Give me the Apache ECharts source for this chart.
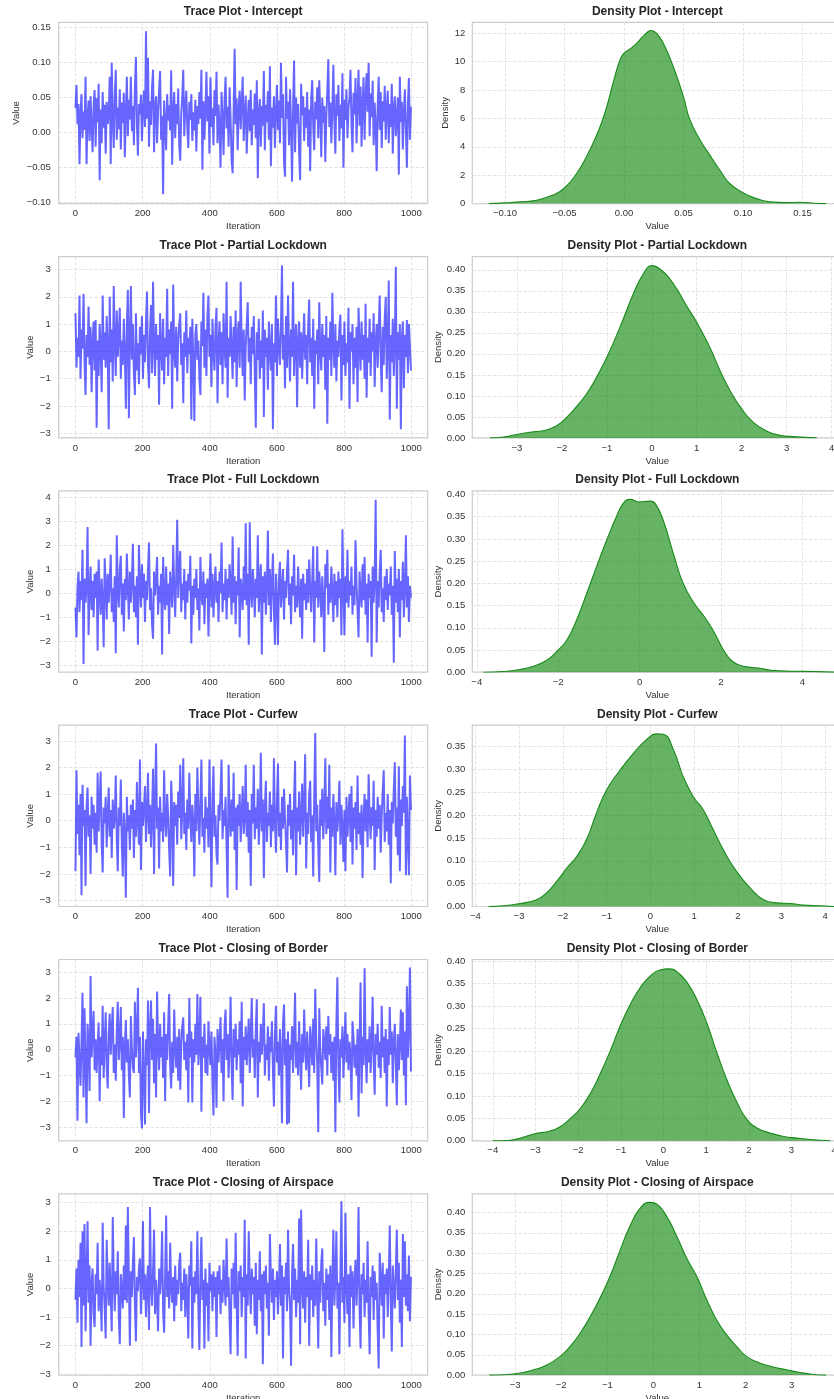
<!DOCTYPE html>
<html><head><meta charset="utf-8">
<script src="https://cdn.jsdelivr.net/npm/echarts@6/dist/echarts.min.js"></script>
<style>html,body{margin:0;padding:0;background:#fff}#c{width:834px;height:1399px}</style>
</head><body><div id="c"></div>
<script>
// ---------------- data ----------------
const STEP = 3; // iterations between stored samples
const paramNames = ['Intercept','Partial Lockdown','Full Lockdown','Curfew','Closing of Border','Closing of Airspace'];

const traceIntercept = [
0.035,0.068,0.012,0.041,-0.045,0.027,0.055,-0.008,0.030,0.004,
0.080,-0.045,0.022,0.046,-0.012,0.052,0.009,-0.028,0.038,0.061,
-0.020,0.049,0.015,0.070,-0.068,0.033,-0.015,0.058,0.007,0.040,
-0.030,0.044,0.012,0.025,0.080,-0.045,0.100,0.018,-0.022,0.054,
0.090,-0.010,0.036,0.005,0.062,-0.024,0.043,0.014,0.057,-0.035,
0.028,0.080,-0.005,0.047,0.019,0.080,0.002,0.038,-0.018,0.065,
0.108,0.012,-0.033,0.041,0.026,0.054,-0.012,0.034,0.060,0.008,
0.145,0.020,0.107,-0.020,0.045,0.011,0.065,0.090,-0.028,0.037,
0.052,-0.015,0.030,0.060,0.088,-0.010,0.024,-0.088,0.046,0.013,
-0.025,0.055,0.017,0.039,0.003,0.089,-0.046,0.031,0.058,-0.008,
0.041,0.012,0.063,-0.018,-0.040,0.027,0.050,0.090,-0.005,0.034,
0.060,0.009,-0.022,0.044,0.018,0.055,-0.012,0.029,0.003,0.047,
-0.027,0.038,0.012,0.058,0.020,0.090,-0.053,0.045,-0.010,0.031,
0.087,0.016,0.052,-0.030,0.079,0.008,0.035,-0.018,0.061,0.024,
0.087,-0.015,0.040,0.011,-0.050,0.058,0.021,-0.032,0.046,0.080,
0.006,0.037,-0.020,0.065,0.019,-0.040,-0.058,0.030,0.120,0.012,
0.049,-0.025,0.034,0.060,0.005,0.042,0.080,-0.012,0.027,0.053,
-0.030,0.018,0.047,0.002,0.061,-0.018,0.033,0.011,0.056,-0.008,
0.075,-0.065,0.029,0.048,-0.020,0.038,0.010,0.088,-0.025,0.040,
0.015,0.059,-0.010,0.095,-0.048,0.036,0.007,0.052,-0.022,0.030,
0.068,0.004,0.046,-0.015,0.100,0.021,0.055,-0.040,-0.063,0.080,
0.020,0.044,-0.018,0.062,0.009,-0.070,0.035,0.103,-0.028,0.050,
0.013,0.041,-0.030,-0.068,0.070,0.025,0.052,-0.012,0.036,0.007,
0.058,-0.020,0.033,-0.055,0.048,0.075,0.010,-0.025,0.044,0.019,
0.065,-0.008,0.075,0.028,-0.035,0.050,0.014,0.038,-0.042,0.022,
0.060,0.105,0.008,0.043,-0.015,0.031,0.097,0.016,-0.030,0.055,
0.024,0.068,-0.012,0.040,0.006,0.085,-0.050,0.047,0.018,0.062,
-0.008,0.035,0.050,0.090,0.012,-0.028,0.057,0.026,0.078,-0.015,
0.045,0.090,0.010,0.066,-0.020,0.038,0.079,-0.010,0.052,0.085,
0.030,0.100,-0.005,0.056,0.022,0.074,-0.018,0.043,0.012,-0.055,
0.037,0.080,0.004,0.058,-0.022,0.045,0.016,0.067,-0.010,0.033,
0.060,-0.015,0.041,0.008,0.070,-0.030,0.035,0.052,-0.005,0.024,
0.050,-0.060,0.080,0.015,0.044,-0.024,0.030,0.062,0.003,-0.050,
0.040,0.078,-0.010,0.037];

const tracePartial = [
1.4,-0.6,0.5,-0.2,2.05,-1.0,0.8,0.1,2.1,-0.4,
-1.6,0.6,-0.2,1.65,-0.5,0.9,-1.5,0.3,1.1,-0.7,
1.15,-2.8,0.4,-0.9,1.0,0.2,-1.5,2.05,-0.3,0.7,
-0.6,1.3,0.1,-2.85,2.0,-0.4,0.8,-1.1,2.4,0.3,
-0.9,1.5,-0.2,0.6,1.6,-1.0,0.4,-0.5,1.2,0.0,
-2.1,0.9,2.25,-2.45,0.5,2.4,-0.3,1.0,-0.8,-1.6,
1.4,-0.7,0.3,-1.2,0.9,-0.1,1.3,-1.0,0.6,-0.4,
1.1,2.2,-0.5,-1.35,0.7,1.7,-0.8,2.55,0.2,-0.9,
1.0,-0.3,0.6,-1.95,1.4,0.1,-0.7,1.2,-1.2,0.5,
-0.2,2.3,-0.9,0.8,-0.1,1.1,-2.1,2.45,0.0,-0.6,
0.9,-1.1,0.4,1.0,1.4,-0.5,0.3,-1.9,0.7,-0.2,
1.5,-0.8,0.5,-0.1,0.9,-2.5,1.2,-0.4,-2.55,0.6,
1.0,-0.3,0.4,-1.0,-1.6,1.1,0.2,2.15,-0.6,0.8,
-0.9,1.3,2.05,-0.2,0.6,-1.3,1.2,0.0,-0.7,0.9,
1.6,-1.9,0.3,1.1,-0.5,0.7,-1.2,1.4,0.2,-0.6,
2.55,-1.7,0.5,-0.2,1.3,0.1,-1.0,0.9,-0.4,1.5,
-1.3,0.6,1.1,-0.6,2.55,0.3,-0.9,0.8,-1.8,0.2,
1.0,1.8,-0.4,0.5,-1.2,0.9,-0.1,1.3,-0.8,-2.8,
0.7,-0.3,1.2,-1.0,0.4,-0.6,1.5,-2.4,0.8,-0.2,
0.5,-1.4,1.1,0.0,-0.7,1.0,-2.85,0.3,-0.4,2.05,
-0.9,1.2,0.2,-0.5,0.9,3.15,-0.3,0.6,-1.35,1.3,
-0.6,2.05,0.1,-1.1,0.8,-0.2,2.55,-0.9,0.5,1.0,
-2.05,0.4,1.1,-0.6,0.7,-1.0,0.3,1.4,-0.3,0.6,
-1.2,0.9,1.9,-0.4,0.5,-0.9,1.2,-2.1,0.4,-0.1,
0.8,-1.2,1.8,0.0,-0.7,1.0,-0.2,0.6,-1.4,1.3,
-2.65,0.5,-0.3,1.1,-0.9,2.15,0.2,-0.6,1.0,-1.1,
0.4,-0.2,0.9,1.35,-1.8,0.6,-0.5,1.1,-0.9,0.3,
-0.4,1.6,-2.1,0.7,0.0,1.0,-1.2,0.5,-0.6,0.9,
-1.85,1.6,0.2,-0.7,1.1,-0.3,0.6,-1.0,1.75,-1.7,
0.5,-0.4,1.2,-0.9,0.7,0.0,1.4,-1.3,0.3,1.0,
-0.6,0.8,2.05,-0.2,-1.5,0.9,-0.5,1.2,2.0,-1.0,
0.3,2.6,-2.5,0.6,-0.4,1.2,-0.9,0.4,3.1,-2.1,
0.7,-0.3,1.0,-2.85,0.5,1.1,-1.35,0.6,-0.2,1.15,
-0.8,1.0,0.2,-0.7];

const traceFull = [
-0.6,-1.85,0.2,0.9,-0.8,0.5,-0.3,1.8,-2.95,0.6,
-0.4,0.3,2.75,-1.75,0.1,1.1,-0.7,0.5,-1.0,0.8,
-0.2,0.9,-2.4,1.4,0.1,-0.9,0.6,-0.3,-2.25,1.45,
0.3,-1.1,0.8,-0.4,0.5,1.6,-0.8,0.2,-1.2,0.7,
-2.5,2.4,0.1,-0.6,1.0,1.55,-0.9,0.4,-1.6,0.6,
-0.3,1.65,0.2,-1.1,0.9,-0.4,0.5,2.05,-0.8,0.3,
-1.0,0.7,-2.15,2.0,0.4,-0.6,1.2,-0.2,0.8,-1.2,
0.5,-0.3,1.0,2.1,-0.7,0.2,-1.3,-1.9,0.9,-0.1,
0.6,1.5,-0.9,0.3,-0.4,0.8,-2.55,1.5,0.0,-0.7,
1.1,-0.5,0.4,-1.7,0.9,0.1,-0.6,2.0,0.3,-1.0,
0.7,3.05,-0.2,1.2,1.75,-0.8,0.4,-0.3,1.0,-1.1,
0.5,-0.4,0.8,0.1,1.55,-2.1,0.3,-0.9,0.6,-0.2,
1.0,-0.7,0.2,-1.55,1.5,0.0,-0.5,0.9,-1.3,0.4,
-0.2,0.6,-1.8,0.3,1.65,-0.6,0.8,-1.0,0.2,1.1,
-0.4,0.5,-1.2,0.9,0.0,2.1,-0.8,0.4,-0.3,1.0,
-1.1,0.6,-0.2,1.2,0.3,-0.9,2.35,-0.4,0.7,-1.3,
0.5,-0.1,1.9,-1.85,0.6,0.2,-0.7,1.1,-0.3,2.9,
-0.5,0.8,-2.15,2.95,0.1,-0.6,1.0,0.3,-1.0,0.6,
-0.2,2.4,-0.8,0.5,1.2,-2.55,0.7,-0.4,0.9,-0.9,
0.3,2.6,-0.5,1.0,-1.2,0.4,1.65,-0.7,-2.15,0.8,
-0.3,-2.15,0.6,1.3,-0.6,0.2,1.0,-1.1,0.5,-0.2,
0.9,1.8,-0.5,0.4,-1.3,0.7,-0.1,1.6,-0.8,0.3,
-0.6,1.1,0.0,-1.0,0.6,-1.9,0.8,-0.3,0.4,-0.7,
1.0,-0.4,1.4,0.2,-0.8,0.6,1.95,-2.05,0.5,-0.2,
1.95,-0.6,0.9,0.1,-1.0,0.7,-0.3,-2.45,1.2,0.2,
1.8,-0.9,0.4,-0.4,1.1,0.0,-1.2,0.8,-0.5,0.5,
-1.0,0.9,-0.2,0.6,-1.75,2.65,0.2,-1.75,0.7,-0.4,
1.8,-0.6,0.5,-0.1,1.1,-0.9,0.3,-0.5,2.2,0.4,
-0.7,-1.85,0.9,0.0,-0.6,1.2,-0.3,1.5,-0.9,0.4,
-2.05,0.8,-0.2,0.5,-2.65,1.1,-0.4,0.6,3.88,-2.05,
0.5,-0.6,0.9,1.8,-0.8,0.2,-1.2,0.7,-0.3,1.0,
-0.7,0.4,-0.1,1.1,-0.9,0.3,-2.9,1.75,-0.4,0.6,
-0.8,1.0,-1.85,0.5,-0.3,1.3,-1.0,0.2,2.4,-0.6,
0.7,-1.2,0.3,-0.2];

const traceCurfew = [
-1.9,1.9,-0.5,0.6,-1.3,1.0,-2.8,1.35,-0.2,0.4,
-2.45,0.5,1.25,-0.6,0.2,-2.0,0.9,-0.3,0.6,-0.9,
0.3,-1.2,1.8,-0.4,0.7,1.85,-0.8,-1.95,0.5,-0.1,
0.9,-1.0,0.2,1.25,-0.6,0.4,-1.4,0.8,-0.3,0.1,
1.7,-0.7,-1.9,0.5,-0.2,1.55,-0.9,-2.1,0.3,-0.5,
-2.9,0.9,-0.4,0.2,-1.1,0.6,-0.3,0.8,-1.4,0.4,
-0.6,1.45,0.0,-0.9,2.3,-1.85,0.7,-0.2,0.5,1.3,
-0.8,0.3,1.8,-0.5,0.6,-1.0,0.2,1.95,-2.0,0.8,
2.9,-0.3,0.5,-1.8,0.9,-0.4,0.3,-0.8,1.9,0.0,
-0.6,1.0,0.2,-1.1,-2.1,1.5,0.4,-2.45,0.7,-0.2,
0.6,-0.9,1.1,0.1,2.1,-0.7,0.4,2.35,-0.5,0.3,
-1.1,0.8,-0.3,1.8,0.2,-0.8,0.6,-0.1,-2.1,1.0,
-0.4,2.0,0.3,-0.9,0.7,2.3,-0.6,0.1,-1.2,0.9,
-0.3,0.5,-1.0,2.3,-0.2,-2.5,0.8,2.05,-0.6,0.2,
-1.3,-1.65,0.6,0.0,1.1,2.3,-0.7,0.4,-0.2,0.9,
-1.0,-2.9,2.1,0.3,-0.6,0.8,-0.4,1.8,-1.1,0.5,
-2.6,0.6,-0.2,1.0,-0.8,0.3,1.3,-0.5,0.1,2.1,
-0.6,0.7,-1.2,0.4,-2.45,1.0,-0.1,2.1,-0.7,0.5,
-0.3,1.2,-0.9,0.2,2.55,-0.4,0.8,-2.15,0.5,1.5,
-0.8,0.3,-0.2,1.1,-1.0,0.6,-0.4,2.35,0.0,-1.2,
0.7,2.15,-0.6,0.3,-1.1,0.9,-0.3,1.2,0.1,-0.8,
-1.95,0.6,-0.2,1.0,-0.7,0.4,-1.3,0.8,2.25,-2.05,
0.5,-0.4,1.1,-0.9,0.2,1.4,-0.6,0.7,2.5,-1.8,
0.3,-0.5,1.0,1.5,-0.8,0.2,-2.1,0.9,3.3,-0.4,
0.6,-1.0,-2.3,0.8,-0.2,1.2,-0.7,0.4,2.35,-0.5,
0.9,-0.3,2.1,-1.95,0.5,-0.6,1.0,0.0,-2.05,0.7,
-0.4,0.3,1.5,-0.9,0.6,-0.2,-1.55,0.4,-1.9,0.9,
-0.6,0.2,1.0,-0.8,1.3,-1.65,0.5,-0.3,0.7,-1.1,
1.7,-0.5,0.3,-0.9,0.6,-2.15,0.1,1.0,-0.4,0.8,
-1.0,1.75,0.2,-0.7,0.5,-0.2,1.5,-1.85,0.4,-0.6,
0.9,-0.3,0.6,-1.2,0.2,1.1,1.9,-0.8,0.3,-0.4,
1.0,-0.9,0.4,-2.35,0.7,-0.1,1.2,2.2,-0.6,0.5,
-1.3,2.05,-1.9,0.8,-0.2,1.3,0.3,3.2,-2.05,0.9,
-0.7,-2.05,1.7,0.4];

const traceBorder = [
-0.3,0.5,-2.75,0.65,-0.4,-1.4,0.3,2.2,-1.85,1.6,
-0.5,-2.85,1.0,0.2,-1.6,2.85,-0.3,0.6,1.5,-0.8,
0.4,-0.9,0.2,1.05,-2.0,0.5,-0.6,1.7,-1.1,0.3,
1.45,-0.7,-1.5,0.6,1.4,-0.2,0.8,1.65,-0.9,0.2,
-1.2,0.7,1.85,-0.4,0.3,1.65,-0.8,0.5,-2.65,0.1,
1.15,-0.5,0.4,-1.0,-1.85,1.3,0.0,-0.7,-0.9,1.85,
-0.3,0.6,2.4,-0.9,0.5,-2.45,-3.05,0.7,-1.0,-2.9,
0.4,-0.6,1.9,-2.45,0.8,1.9,-0.4,1.2,-1.3,0.6,
-1.85,2.25,0.2,-0.8,1.0,-0.3,0.5,-1.1,1.45,-2.0,
0.6,-0.4,0.9,2.15,-0.6,-1.5,0.3,-0.9,1.55,0.0,
-0.7,0.5,-1.2,0.8,-1.55,0.2,0.9,1.25,-0.4,0.3,
-0.8,0.6,-2.05,2.0,-0.3,0.7,-2.05,0.4,-0.5,1.0,
-0.2,2.15,-0.6,0.3,2.05,-2.4,0.5,-0.3,1.0,-0.9,
0.2,-1.0,1.1,0.0,-0.6,0.7,-1.3,-2.55,0.5,-0.2,
-2.25,0.8,-0.5,0.3,1.25,-0.9,0.4,-2.0,0.9,1.55,
-0.4,0.6,-1.1,0.2,2.05,-0.7,-1.95,0.8,-0.3,1.0,
-0.8,0.4,-0.2,1.1,-1.3,1.85,-2.2,0.5,-0.4,0.9,
-0.6,0.3,1.2,-0.9,0.6,2.0,-0.3,0.4,-1.1,0.8,
1.95,-1.85,0.3,-0.5,1.0,-0.2,0.6,1.8,-1.0,0.2,
-0.4,0.9,-1.2,0.5,-0.1,1.1,-0.8,-2.2,0.6,1.7,
-0.5,0.3,-1.0,0.8,-0.3,-2.85,1.0,1.75,-0.6,0.4,
-2.9,0.7,-2.85,0.2,-0.4,0.9,-0.9,0.5,2.2,-0.7,
0.3,-1.0,1.1,-0.2,-1.55,0.6,-0.5,1.55,0.1,-0.8,
0.7,-0.3,-1.45,0.9,0.2,-0.6,1.2,-0.9,2.35,0.4,
-0.5,-3.2,1.6,0.0,-0.7,-1.35,0.8,0.3,-0.4,0.9,
-1.0,1.3,-0.2,0.6,-0.9,0.3,-1.2,0.5,-3.2,1.0,
2.8,-0.6,-2.05,0.4,-0.3,0.9,-1.1,0.2,1.45,-0.5,
0.6,-0.8,0.3,-0.2,-1.95,1.1,0.5,-0.7,0.2,-1.0,
0.8,-2.6,0.3,2.6,-1.7,0.5,-0.6,3.15,0.0,-1.3,
0.4,-0.5,0.9,-0.9,0.2,2.05,-0.4,-1.75,0.6,-0.2,
1.0,-0.7,0.3,-1.1,1.7,-0.3,0.5,-0.9,0.8,-2.2,
0.4,-0.6,1.65,-0.2,0.7,-1.3,0.3,1.0,-0.5,-2.15,
0.6,-0.8,0.2,1.55,-0.4,1.45,-1.0,0.7,-2.15,2.45,
-0.3,0.9,3.18,-0.85];

const traceAirspace = [
-0.4,0.7,-1.2,1.0,-0.3,1.6,-2.05,2.0,-0.6,2.25,
-1.5,0.4,2.35,-0.5,0.8,-2.0,0.2,0.7,-0.9,-1.35,
0.5,-0.2,1.6,-0.8,0.3,-0.4,-1.5,2.3,0.1,-0.7,
-1.75,1.7,0.2,-0.6,0.9,-0.3,-1.5,2.5,0.4,-0.8,
0.6,-0.2,1.3,-1.0,-1.95,0.5,0.0,-0.7,0.8,-0.4,
2.2,-0.5,2.85,0.3,-2.0,0.6,-0.3,0.9,1.8,-0.6,
-1.85,0.4,-0.1,0.7,1.05,-0.9,0.3,2.35,-0.4,0.5,
-1.0,0.2,0.8,-1.45,2.85,0.1,-0.6,0.6,2.05,-0.9,
0.3,-0.4,-1.5,0.7,-0.2,0.5,2.0,-0.8,-1.55,0.4,
2.55,-0.3,0.6,-0.7,1.6,0.0,-0.5,0.4,-1.15,0.8,
-0.6,0.3,-0.2,0.9,1.25,-0.8,0.2,-0.4,0.7,-1.0,
0.5,-0.3,-1.75,0.8,0.1,1.65,-2.1,0.4,-0.5,0.6,
-0.2,2.0,-0.7,-2.15,0.5,1.8,-0.4,0.3,-2.1,0.7,
-0.6,0.2,-1.85,0.9,-0.1,0.5,-0.8,0.6,-0.3,0.4,
-1.7,0.6,-0.2,0.8,-0.9,0.3,-0.5,1.0,0.1,-0.6,
1.75,-0.3,0.4,-1.1,-2.3,0.7,-0.2,0.9,-0.7,1.95,
-0.5,-2.35,0.6,-0.1,0.8,-1.0,0.4,-0.3,2.4,-2.45,
0.5,-0.6,2.0,0.2,-0.9,0.7,-0.2,0.4,-1.3,0.9,
-1.6,0.3,-0.4,1.3,-0.8,0.5,-2.65,0.6,-0.2,0.8,
-0.7,0.2,-1.65,1.9,0.4,-0.5,0.7,-1.1,0.3,-0.3,
0.6,-0.9,0.1,1.55,-0.6,0.8,-2.45,0.4,-0.2,0.9,
-0.8,2.05,0.0,-0.6,-2.7,0.5,1.55,-0.4,0.7,-1.0,
0.3,-0.5,2.45,-1.95,2.75,0.2,-0.7,0.6,-1.2,0.4,
-0.3,1.7,-2.0,0.5,-0.4,0.8,-1.0,0.3,-0.6,1.75,
-0.2,-2.1,0.6,-0.5,0.9,1.4,-0.8,0.2,-1.3,0.7,
-0.4,0.5,-1.1,0.8,-2.4,0.3,2.05,-0.6,0.4,2.0,
-0.7,0.2,-2.3,0.6,3.05,-0.5,0.4,-1.2,2.65,0.1,
-0.9,0.5,-2.05,0.8,-0.3,0.6,-1.4,0.2,1.0,-0.6,
0.4,2.85,-0.7,-2.1,0.5,-0.2,0.9,-1.0,0.3,-0.5,
1.65,-0.8,-2.3,0.4,-0.3,0.8,-1.1,0.6,-0.4,0.2,
-1.5,-2.8,1.25,0.3,-0.6,0.9,-1.75,0.5,-0.2,0.7,
-1.0,0.4,2.2,-0.5,-2.2,0.8,0.0,-0.7,0.6,2.05,
-0.4,0.9,-1.2,0.3,-2.05,1.9,-0.3,1.65,-0.6,0.5,
-0.8,1.15,-1.15,0.4];

// KDE curves (x = parameter value, y = density)
const densInterceptX = [-0.1137,-0.100,-0.0877,-0.0737,-0.0597,-0.050,-0.040,-0.0316,-0.0232,-0.0162,-0.0092,-0.0036,0.0,0.005,0.0106,0.0162,0.0227,0.0274,0.033,0.0414,0.050,0.0554,0.0638,0.0722,0.0806,0.089,0.1002,0.1114,0.1226,0.1366,0.1478,0.160,0.1698];
const densInterceptY = [0,0.05,0.12,0.24,0.6,1.1,2.1,3.3,4.8,6.35,8.5,10.1,10.6,10.9,11.3,11.8,12.2,12.0,11.3,9.65,7.5,5.9,4.5,3.4,2.35,1.4,0.75,0.35,0.12,0.07,0.09,0.03,0];
const densPartialX = [-3.6,-3.3,-3.01,-2.71,-2.34,-2.12,-1.97,-1.75,-1.45,-1.23,-1.0,-0.71,-0.41,-0.19,0,0.18,0.48,0.77,1.0,1.29,1.52,1.74,2.0,2.26,2.56,2.85,3.15,3.67];
const densPartialY = [0,0.002,0.008,0.0135,0.019,0.029,0.041,0.065,0.105,0.144,0.192,0.263,0.343,0.39,0.41,0.402,0.367,0.315,0.275,0.216,0.16,0.113,0.069,0.037,0.016,0.006,0.003,0];
const densFullX = [-3.84,-3.35,-2.94,-2.61,-2.28,-2.0,-1.79,-1.55,-1.30,-1.06,-0.81,-0.57,-0.40,-0.24,0.0,0.25,0.38,0.58,0.83,1.07,1.32,1.65,1.89,2.06,2.30,2.63,2.96,3.28,3.78,4.27,4.8];
const densFullY = [0,0.0015,0.006,0.0135,0.027,0.05,0.072,0.117,0.177,0.237,0.297,0.35,0.38,0.389,0.383,0.385,0.38,0.342,0.267,0.2,0.158,0.117,0.08,0.05,0.023,0.012,0.009,0.0038,0.0023,0.0015,0];
const densCurfewX = [-3.70,-3.36,-2.97,-2.60,-2.37,-2.14,-1.91,-1.68,-1.46,-1.23,-1.0,-0.69,-0.39,-0.08,0.145,0.30,0.53,0.75,0.98,1.21,1.44,1.67,1.97,2.28,2.59,2.89,3.20,3.50,3.88,4.2];
const densCurfewY = [0,0.0015,0.0066,0.015,0.03,0.055,0.084,0.11,0.146,0.205,0.255,0.299,0.335,0.366,0.378,0.377,0.343,0.285,0.241,0.212,0.168,0.124,0.077,0.041,0.015,0.008,0.0066,0.003,0.0015,0];
const densBorderX = [-4.0,-3.66,-3.35,-3.04,-2.65,-2.41,-2.18,-1.95,-1.71,-1.48,-1.24,-1.01,-0.77,-0.54,-0.30,-0.07,0.125,0.32,0.55,0.79,1.02,1.26,1.49,1.73,1.96,2.20,2.51,2.82,3.13,3.45,3.91];
const densBorderY = [0,0.0007,0.006,0.015,0.022,0.032,0.05,0.072,0.106,0.15,0.202,0.257,0.305,0.342,0.368,0.381,0.383,0.376,0.353,0.313,0.261,0.194,0.135,0.084,0.047,0.028,0.017,0.0096,0.006,0.003,0];
const densAirspaceX = [-3.56,-3.18,-2.89,-2.60,-2.31,-2.02,-1.81,-1.59,-1.37,-1.16,-0.94,-0.72,-0.51,-0.29,-0.07,0.07,0.29,0.51,0.72,0.94,1.16,1.37,1.59,1.81,2.02,2.31,2.60,2.89,3.18,3.47,3.75];
const densAirspaceY = [0,0.0016,0.005,0.013,0.025,0.046,0.07,0.103,0.144,0.189,0.243,0.308,0.366,0.41,0.425,0.421,0.39,0.341,0.288,0.243,0.185,0.136,0.099,0.07,0.046,0.03,0.02,0.013,0.0066,0.0016,0];

// tick labels
const traceXTicks = [0,200,400,600,800,1000];
const traceYTicks = [
  [-0.10,-0.05,0,0.05,0.10,0.15],
  [-3,-2,-1,0,1,2,3],
  [-3,-2,-1,0,1,2,3,4],
  [-3,-2,-1,0,1,2,3],
  [-3,-2,-1,0,1,2,3],
  [-3,-2,-1,0,1,2,3]];
const densXTicks = [
  [-0.10,-0.05,0,0.05,0.10,0.15],
  [-3,-2,-1,0,1,2,3,4],
  [-4,-2,0,2,4],
  [-4,-3,-2,-1,0,1,2,3,4],
  [-4,-3,-2,-1,0,1,2,3,4],
  [-3,-2,-1,0,1,2,3]];
const densYTicks = [
  [0,2,4,6,8,10,12],
  [0,0.05,0.10,0.15,0.20,0.25,0.30,0.35,0.40],
  [0,0.05,0.10,0.15,0.20,0.25,0.30,0.35,0.40],
  [0,0.05,0.10,0.15,0.20,0.25,0.30,0.35],
  [0,0.05,0.10,0.15,0.20,0.25,0.30,0.35,0.40],
  [0,0.05,0.10,0.15,0.20,0.25,0.30,0.35,0.40]];

// ---------------- layout ----------------
const traces = [traceIntercept, tracePartial, traceFull, traceCurfew, traceBorder, traceAirspace];
const densX = [densInterceptX, densPartialX, densFullX, densCurfewX, densBorderX, densAirspaceX];
const densY = [densInterceptY, densPartialY, densFullY, densCurfewY, densBorderY, densAirspaceY];

const traceXRange = [-49.95, 1048.95];
const traceYRange = [[-0.1014,0.1577],[-3.17,3.476],[-3.29,4.25],[-3.225,3.59],[-3.53,3.49],[-3.03,3.31]];
const traceYDec = [2,0,0,0,0,0];
const densXRange = [[-0.1275,0.1834],[-3.994,4.239],[-4.11,4.98],[-4.07,4.39],[-4.48,4.19],[-3.93,4.10]];
const densXDec = [2,0,0,0,0,0];
const densYRange = [[0,12.78],[0,0.4315],[0,0.408],[0,0.397],[0,0.4038],[0,0.446]];
const densYDec = [0,2,2,2,2,2];
const leftNameGap = [37.7,23.4,23.4,23.4,23.4,23.4];
const rightNameGap = [20.3,28.8,28.8,28.8,28.8,28.8];

const FONT = '"Liberation Sans", Arial, Helvetica, sans-serif';
const TXT = '#333333';
const LX = 58.7, LW = 369, RX = 472.3, RW = 370, H = 181.3;
const rowTop = k => 22.3 + 234.3 * k;

function fmt(d) {
  return v => (v < -1e-12 ? '\u2212' : '') + Math.abs(v).toFixed(d);
}
function axis(idx, range, ticks, dec, name, nameGap, margin) {
  return {
    type: 'value', gridIndex: idx, min: range[0], max: range[1],
    name: name, nameLocation: 'middle', nameGap: nameGap,
    nameTextStyle: { fontFamily: FONT, fontSize: 9.5, color: TXT },
    axisLine: { show: false },
    axisTick: { show: false, customValues: ticks },
    axisLabel: { customValues: ticks, formatter: fmt(dec), fontFamily: FONT, fontSize: 9.5, color: TXT, margin: margin },
    splitLine: { show: true, lineStyle: { color: '#dddddd', width: 0.8, type: [3.5, 1.6] } }
  };
}

const grids = [], xAxes = [], yAxes = [], series = [], titles = [];
for (let k = 0; k < 6; k++) {
  const top = rowTop(k);
  grids.push({ left: LX, top: top, width: LW, height: H, show: true, borderColor: '#cccccc', borderWidth: 1.2, backgroundColor: '#fff', containLabel: false, outerBoundsMode: 'none' });
  grids.push({ left: RX, top: top, width: RW, height: H, show: true, borderColor: '#cccccc', borderWidth: 1.2, backgroundColor: '#fff', containLabel: false, outerBoundsMode: 'none' });
  const gi = 2 * k;
  xAxes.push(axis(gi, traceXRange, traceXTicks, 0, 'Iteration', 18, 5));
  yAxes.push(axis(gi, traceYRange[k], traceYTicks[k], traceYDec[k], 'Value', leftNameGap[k], 8));
  xAxes.push(axis(gi + 1, densXRange[k], densXTicks[k], densXDec[k], 'Value', 18, 5));
  yAxes.push(axis(gi + 1, densYRange[k], densYTicks[k], densYDec[k], 'Density', rightNameGap[k], 7));

  series.push({
    type: 'line', xAxisIndex: gi, yAxisIndex: gi,
    data: traces[k].map((v, j) => [j * STEP, v]),
    symbol: 'none', showSymbol: false, silent: true, clip: true,
    lineStyle: { color: '#0000ff', opacity: 0.6, width: 2.0, join: 'miter', miterLimit: 3 }
  });
  series.push({
    type: 'line', xAxisIndex: gi + 1, yAxisIndex: gi + 1,
    data: densX[k].map((x, j) => [x, densY[k][j]]),
    symbol: 'none', showSymbol: false, silent: true, clip: true,
    smooth: 0.5,
    lineStyle: { color: '#178a17', width: 1.1 },
    areaStyle: { color: '#008000', opacity: 0.6 }
  });

  titles.push({ text: 'Trace Plot - ' + paramNames[k], left: LX + LW / 2, top: top - 16.8, textAlign: 'center', padding: 0,
    textStyle: { fontFamily: FONT, fontSize: 12, fontWeight: 'bold', color: '#262626' } });
  titles.push({ text: 'Density Plot - ' + paramNames[k], left: RX + RW / 2, top: top - 16.8, textAlign: 'center', padding: 0,
    textStyle: { fontFamily: FONT, fontSize: 12, fontWeight: 'bold', color: '#262626' } });
}

const chart = echarts.init(document.getElementById('c'), null, { renderer: 'canvas', width: 834, height: 1399 });
chart.setOption({
  animation: false,
  backgroundColor: '#ffffff',
  title: titles,
  grid: grids,
  xAxis: xAxes,
  yAxis: yAxes,
  series: series
});
</script>
</body></html>
